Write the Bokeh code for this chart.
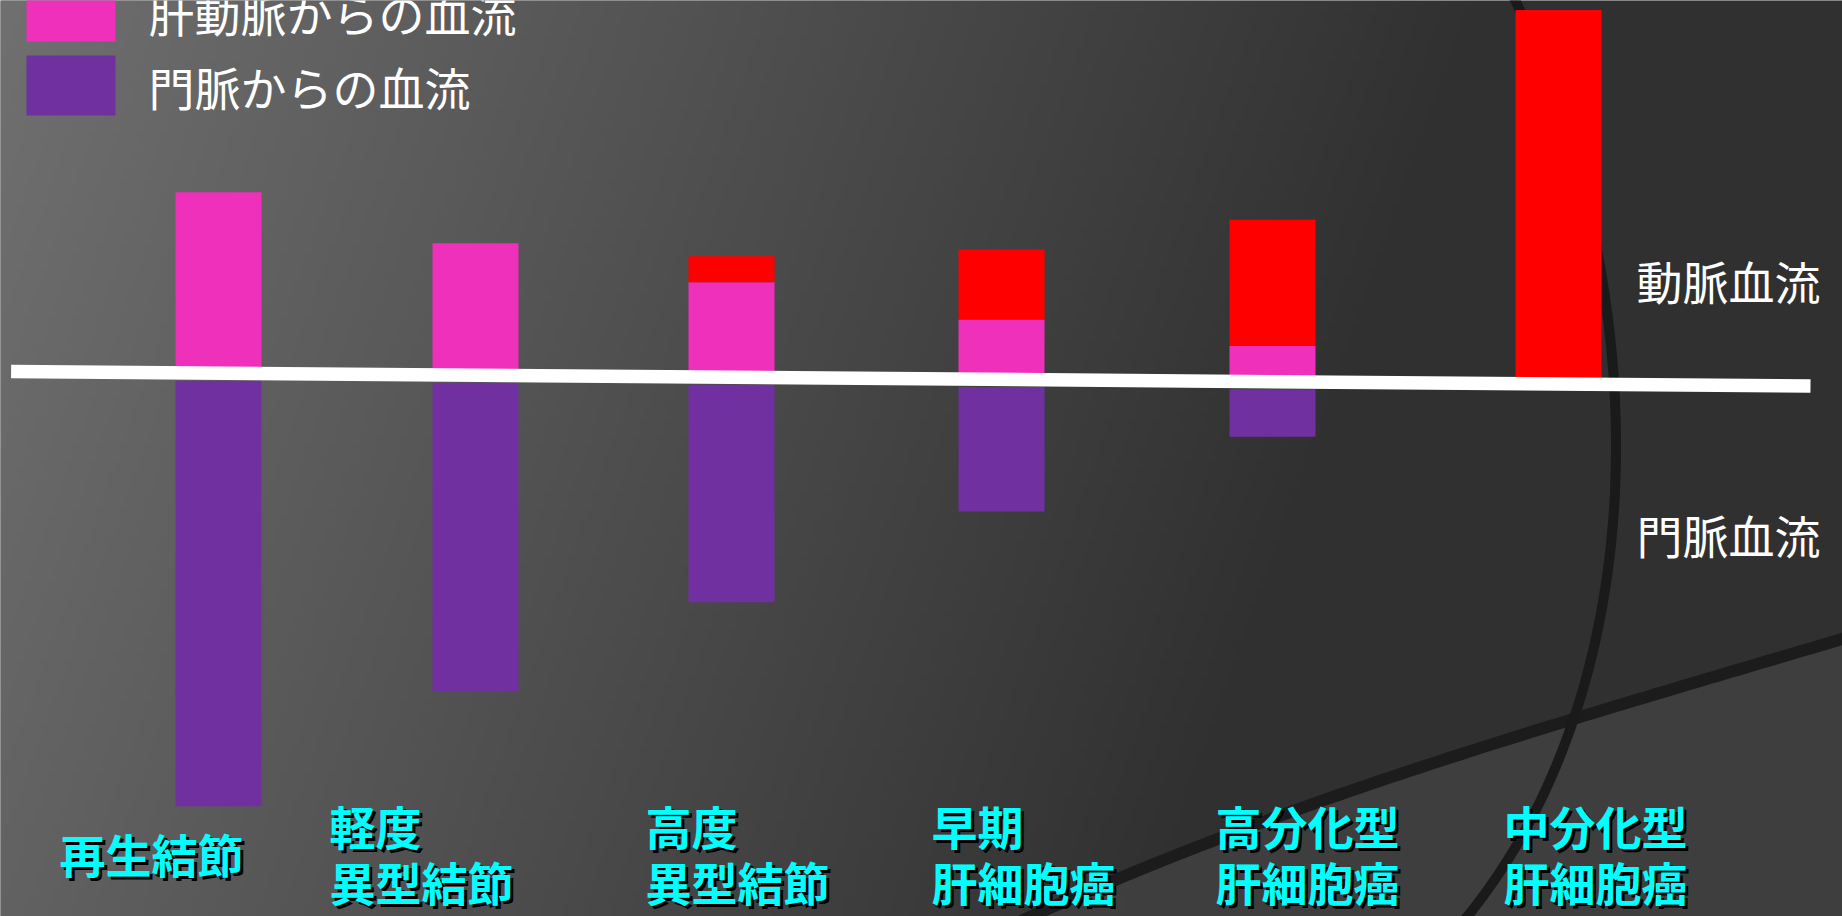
import numpy as np
from bokeh.plotting import figure
from bokeh.models import Range1d, ColumnDataSource
from bokeh.core.properties import value
from bokeh.embed import file_html
from bokeh.resources import INLINE

# ---------------- data ----------------
categories = ["再生結節", "軽度\n異型結節", "高度\n異型結節",
              "早期\n肝細胞癌", "高分化型\n肝細胞癌", "中分化型\n肝細胞癌"]
hepatic_artery = [18.1, 13.2, 9.5, 6.0, 3.6, 0.0]     # 肝動脈からの血流 (pink)
abnormal_artery = [0.0, 0.0, 2.6, 7.0, 12.6, 37.4]    # 動脈血流 (red)
portal_vein = [43.3, 31.6, 22.5, 13.2, 5.5, 0.0]      # 門脈からの血流 (purple)
legend_labels = ["肝動脈からの血流", "門脈からの血流"]
side_labels = ["動脈血流", "門脈血流"]

# ---------------- layout ----------------
W_REF, H_REF = 1842, 916
P0, U = 376.0, 10.0           # reference pixel of value 0, pixels per unit


def Y(py):
    return (P0 - py) / U


bar_x = [218, 475, 731, 1001, 1272, 1558]
bar_w = 86
label_x = [59, 329, 645, 931, 1215, 1503]
label_mid = 852
label_step = 56
line_x0, line_y0, line_x1, line_y1 = 10.6, 371.0, 1810.0, 385.5
gap = 0.75

PINK = "#EE30BB"
PURPLE = "#7030A0"
RED = "#FF0000"
CYAN = "#00FFFF"
FONT = value("Noto Sans CJK JP")


def line_ref_y(x):
    return line_y0 + (x - line_x0) * (line_y1 - line_y0) / (line_x1 - line_x0)


base = [Y(line_ref_y(x)) for x in bar_x]
pink_bottom = base
pink_top = [b + h for b, h in zip(base, hepatic_artery)]
red_top = [t + a for t, a in zip(pink_top, abnormal_artery)]
purple_bottom = [b - v for b, v in zip(base, portal_vein)]
purple_top = [pb + max(v - gap, 0) for pb, v in zip(purple_bottom, portal_vein)]

src = ColumnDataSource(dict(x=bar_x, pb=pink_bottom, pt=pink_top, rt=red_top,
                            ub=purple_bottom, ut=purple_top))

p = figure(width=W_REF, height=H_REF, output_backend="svg", toolbar_location=None,
           x_range=Range1d(0, W_REF), y_range=Range1d(Y(H_REF), Y(0)),
           min_border=0)
p.axis.visible = False
p.grid.visible = False
p.outline_line_color = None
p.background_fill_color = "#4a4a4a"
p.border_fill_color = "#4a4a4a"

# ---------------- background gradient ----------------
step = 6
nw, nh = W_REF // step + 1, H_REF // step + 1
xs = (np.arange(nw) + 0.5) * step
ys_ref = H_REF - (np.arange(nh) + 0.5) * step       # row 0 at the bottom
XX, YY = np.meshgrid(xs, ys_ref)
g = 112 - 62 * XX / 1450 - 14 * YY / H_REF
g = np.clip(g, 48, 255).astype(np.uint8)
img = np.empty((nh, nw), dtype=np.uint32)
view = img.view(dtype=np.uint8).reshape((nh, nw, 4))
view[..., 0] = g
view[..., 1] = g
view[..., 2] = g
view[..., 3] = 255
p.image_rgba(image=[img], x=0, y=Y(H_REF), dw=W_REF, dh=Y(0) - Y(H_REF))


def bez(p0, c0, c1, p1, n=120):
    t = np.linspace(0, 1, n)
    pts = [np.array(q, dtype=float) for q in (p0, c0, c1, p1)]
    out = ((1 - t) ** 3)[:, None] * pts[0] + (3 * (1 - t) ** 2 * t)[:, None] * pts[1] \
        + (3 * (1 - t) * t ** 2)[:, None] * pts[2] + (t ** 3)[:, None] * pts[3]
    return out[:, 0], out[:, 1]


# lower-right lighter band and dark sweep
cx2, cy2 = bez((1000, 930), (1280, 800), (1550, 725), (1850, 636))
p.patch(list(cx2) + [1850, 1850], [Y(v) for v in cy2] + [Y(930), Y(930)],
        fill_color="#454545", fill_alpha=0.7, line_color=None)
p.line(cx2, [Y(v) for v in cy2], line_color="#1c1c1c", line_width=12)

# big arc on the right
cx1, cy1 = bez((1510, -10), (1662, 300), (1655, 700), (1455, 930))
p.line(cx1, [Y(v) for v in cy1], line_color="#1a1a1a", line_width=10)

# ---------------- bars ----------------
p.vbar(x="x", width=bar_w, bottom="pb", top="pt", source=src,
       fill_color=PINK, line_color=None)
p.vbar(x="x", width=bar_w, bottom="pt", top="rt", source=src,
       fill_color=RED, line_color=None)
p.vbar(x="x", width=bar_w, bottom="ub", top="ut", source=src,
       fill_color=PURPLE, line_color=None)

# white divider line
p.line([line_x0, line_x1], [Y(line_y0), Y(line_y1)], line_color="white",
       line_width=13.5, line_cap="butt")

# ---------------- legend ----------------
p.quad(left=[26, 26], right=[115, 115], top=[Y(-19), Y(55)], bottom=[Y(41), Y(115)],
       fill_color=[PINK, PURPLE], line_color=None)
p.text(x=[148, 148], y=[Y(11), Y(85)], text=legend_labels, text_color="white",
       text_font=FONT, text_font_size="46px", text_baseline="middle",
       text_align="left")

# ---------------- side labels ----------------
p.text(x=[1636, 1636], y=[Y(279), Y(533)], text=side_labels, text_color="white",
       text_font=FONT, text_font_size="46px", text_baseline="middle",
       text_align="left")

# ---------------- category labels ----------------
tx, ty, tt = [], [], []
for lx, cat in zip(label_x, categories):
    lines = cat.split("\n")
    n = len(lines)
    for i, ln in enumerate(lines):
        tx.append(lx)
        ty.append(Y(label_mid + (i - (n - 1) / 2) * label_step))
        tt.append(ln)
p.text(x=[v + 3 for v in tx], y=[v - 0.3 for v in ty], text=tt, text_color="black",
       text_font=FONT, text_font_size="46px", text_font_style="bold",
       text_baseline="middle", text_align="left")
p.text(x=tx, y=ty, text=tt, text_color=CYAN,
       text_font=FONT, text_font_size="46px", text_font_style="bold",
       text_baseline="middle", text_align="left")

open("out.html", "w").write(file_html(p, INLINE))
